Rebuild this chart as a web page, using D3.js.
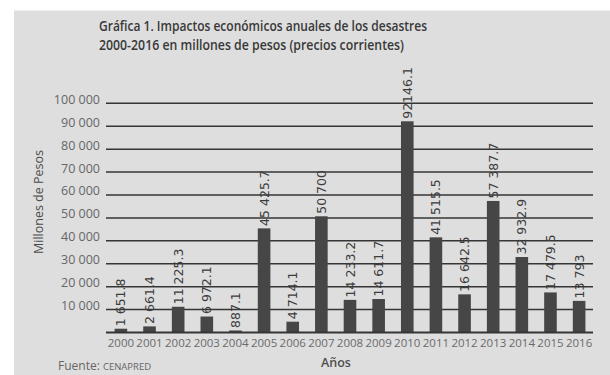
<!DOCTYPE html>
<html>
<head>
<meta charset="utf-8">
<script src="https://cdn.jsdelivr.net/npm/d3@7"></script>
<style>
  html, body { margin: 0; padding: 0; background: #ffffff; }
  svg { display: block; }
</style>
</head>
<body>
<svg id="chart" width="610" height="375"></svg>
<script>
// ---- data ----
const years = ["2000","2001","2002","2003","2004","2005","2006","2007","2008","2009","2010","2011","2012","2013","2014","2015","2016"];
const values = [1651.8, 2661.4, 11225.3, 6972.1, 887.1, 45425.7, 4714.1, 50700, 14233.2, 14611.7, 92146.1, 41515.5, 16642.5, 57387.7, 32932.9, 17479.5, 13793];
const valueLabels = ["1 651.8","2 661.4","11 225.3","6 972.1","887.1","45 425.7","4 714.1","50 700","14 233.2","14 611.7","92146.1","41 515.5","16 642.5","57 387.7","32 932.9","17 479.5","13 793"];
const yTicks = [10000, 20000, 30000, 40000, 50000, 60000, 70000, 80000, 90000, 100000];
const titleLines = ["Gráfica 1. Impactos económicos anuales de los desastres", "2000-2016 en millones de pesos (precios corrientes)"];

const svg = d3.select("#chart");

// panel background
svg.append("rect").attr("x", 14).attr("y", 10.5).attr("width", 596).attr("height", 365).attr("fill", "#dedede");

const x = d3.scaleBand().domain(years).range([106, 594]).paddingInner(0.56).paddingOuter(0.3);
const y = d3.scaleLinear().domain([0, 100000]).range([332.5, 103.3]);
const fmt = d3.formatLocale({decimal: ".", thousands: " ", grouping: [3], currency: ["", ""]}).format(",d");

// gridlines
svg.append("g").selectAll("line").data(yTicks).join("line")
  .attr("x1", 106).attr("x2", 593)
  .attr("y1", d => y(d)).attr("y2", d => y(d))
  .attr("stroke", "#353535").attr("stroke-width", 1.5);

// y tick labels
svg.append("g").selectAll("text").data(yTicks).join("text")
  .attr("x", 100).attr("y", d => y(d) + 0.5)
  .attr("text-anchor", "end")
  .attr("font-family", "'Open Sans', sans-serif").attr("font-size", 12.5)
  .attr("fill", "#666")
  .text(d => fmt(d));

// bars
svg.append("g").selectAll("rect").data(values).join("rect")
  .attr("x", (d, i) => x(years[i]))
  .attr("width", x.bandwidth())
  .attr("y", d => y(d))
  .attr("height", d => y(0) - y(d))
  .attr("fill", "#464646");

// baseline
svg.append("line").attr("x1", 106).attr("x2", 593).attr("y1", y(0)).attr("y2", y(0))
  .attr("stroke", "#353535").attr("stroke-width", 2);

// value labels
svg.append("g").selectAll("text").data(values).join("text")
  .attr("transform", (d, i) => `translate(${x(years[i]) + x.bandwidth() / 2},${y(d) - 2.5}) rotate(-90)`)
  .attr("dy", "0.36em")
  .attr("text-anchor", "start")
  .attr("font-family", "'DejaVu Sans', sans-serif").attr("font-size", 12.5)
  .attr("fill", "#3c3c3c")
  .text((d, i) => valueLabels[i]);

// year labels
svg.append("g").selectAll("text").data(years).join("text")
  .attr("x", d => x(d) + x.bandwidth() / 2).attr("y", 347)
  .attr("text-anchor", "middle")
  .attr("font-family", "'Open Sans', sans-serif").attr("font-size", 11.5)
  .attr("fill", "#6a6a6a")
  .text(d => d);

// title
svg.append("g").selectAll("text").data(titleLines).join("text")
  .attr("x", 99).attr("y", (d, i) => 31 + i * 19)
  .attr("font-family", "'Open Sans', sans-serif").attr("font-size", 14).attr("font-weight", 600)
  .attr("fill", "#383838")
  .attr("textLength", (d, i) => i === 0 ? 328 : 305)
  .attr("lengthAdjust", "spacingAndGlyphs")
  .text(d => d);

// y axis title
svg.append("text")
  .attr("transform", "translate(43,202) rotate(-90)")
  .attr("text-anchor", "middle")
  .attr("font-family", "'Open Sans', sans-serif").attr("font-size", 12.5)
  .attr("fill", "#4a4a4a")
  .text("Millones de Pesos");

// x axis title
svg.append("text")
  .attr("x", 336).attr("y", 367)
  .attr("text-anchor", "middle")
  .attr("font-family", "'Open Sans', sans-serif").attr("font-size", 12.5).attr("font-weight", 600)
  .attr("fill", "#505050")
  .text("Años");

// source
const src = svg.append("text").attr("x", 58).attr("y", 370)
  .attr("font-family", "'Open Sans', sans-serif").attr("font-size", 12).attr("fill", "#666");
src.append("tspan").text("Fuente: ");
src.append("tspan").attr("font-size", 9.5).text("CENAPRED");
</script>
</body>
</html>
